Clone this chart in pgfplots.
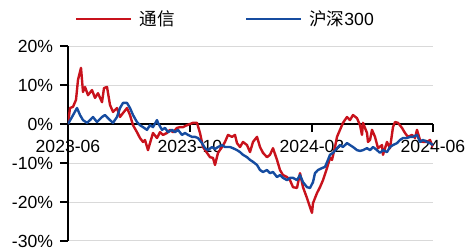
\documentclass[border=0pt]{standalone}
\usepackage{fontspec}
\setmainfont{Liberation Sans}
\newfontfamily\cjk{Noto Sans CJK SC}
\usepackage{pgfplots}
\pgfplotsset{compat=1.18}
\definecolor{cred}{RGB}{200,18,28}
\definecolor{cblue}{RGB}{22,76,160}
\definecolor{cgrid}{RGB}{217,217,217}
\begin{document}
\begin{tikzpicture}
\begin{axis}[
  name=ax,
  scale only axis,
  width=273.75pt, height=146.25pt,
  xmin=0, xmax=365, ymin=-30, ymax=20,
  axis x line*=middle, axis y line*=left,
  hide obscured x ticks=false, hide obscured y ticks=false,
  xtick={0,122,244,365},
  xticklabels={2023-06,2023-10,2024-02,2024-06},
  ytick={-30,-20,-10,0,10,20},
  yticklabels={-30\%,-20\%,-10\%,0\%,10\%,20\%},
  tick align=outside,
  major tick length=6pt,
  tick style={black, line width=0.9pt},
  axis line style={black, line width=0.9pt},
  ymajorgrids, grid style={cgrid, line width=0.75pt},
  tick label style={font=\fontsize{13.2}{15}\selectfont, inner sep=0pt},
  x tick label style={anchor=north, yshift=-6pt},
  y tick label style={anchor=east, xshift=-5pt},
  legend columns=2,
  legend style={at={(axis description cs:0,1)}, anchor=west, xshift=5.25pt, yshift=20.25pt,
    draw=none, fill=none, inner sep=0pt, font=\fontsize{13.2}{15}\selectfont,
    nodes={inner sep=0pt},
    /tikz/every odd column/.append style={column sep=5.25pt},
    /tikz/every even column/.append style={column sep=52.5pt}},
  legend image code/.code={\draw[#1, line width=1.8pt] (0pt,0pt) -- (41.25pt,0pt);},
  every axis plot/.append style={line width=1.8pt, line join=round, mark=none},
]
\addplot[cred] coordinates {
(0,0) (2,4.1) (5,4.4) (8,6.2) (10,11.3) (13,14.4) (15,8.2) (17,9.5) (20,7.4) (24,8.7)
(27,6.7) (30,7.9) (34,5.6) (36,9.2) (39,9.5) (42,4.9) (45,3.1) (49,4.1) (52,1.8) (55,2.8)
(59,4.1) (62,2.3) (65,-0.3) (69,-2.1) (72,-3.6) (75,-4.6) (77,-4.1) (80,-6.7) (82,-4.9) (85,-2.3)
(89,-3.6) (92,-2.1) (95,-2.8) (99,-2.3) (102,-1.5) (105,-2.1) (109,-1.0) (112,-0.8) (115,-0.8) (119,-0.3)
(122,0) (125,0.3) (129,0.3) (132,-2.3) (135,-5.9) (139,-7.4) (142,-8.5) (145,-8.7) (147,-10.5) (150,-7.4)
(154,-5.9) (157,-4.6) (160,-2.8) (164,-3.3) (167,-2.8) (169,-4.9) (172,-5.9) (175,-4.6) (179,-5.4) (182,-7.2)
(185,-4.6) (189,-3.3) (192,-5.9) (195,-7.4) (199,-8.5) (202,-7.9) (205,-6.2) (209,-9.2) (212,-11.8) (215,-13.1)
(219,-13.6) (222,-14.4) (225,-16.2) (229,-16.4) (232,-12.6) (235,-16.2) (239,-19.0) (242,-21.3) (244,-22.8) (245,-20.3)
(249,-17.7) (252,-16.2) (255,-14.4) (259,-11.3) (262,-8.7) (264,-9.2) (267,-5.9) (269,-3.3) (272,-1.5) (275,0.3)
(279,1.8) (282,1.0) (285,2.3) (289,1.5) (292,-0.3) (294,-2.8) (295,0.3) (299,-2.3) (300,-4.6) (302,-4.1)
(304,-1.5) (307,-3.3) (310,-6.2) (314,-5.4) (315,-7.9) (319,-4.6) (322,-6.2) (325,-0.8) (327,0.5) (330,0.3)
(334,-1.0) (337,-2.3) (340,-3.3) (344,-2.8) (347,-3.6) (349,-1.5) (352,-4.1) (355,-4.6) (359,-4.6) (362,-4.1)
(365,-6.0)
};
\addlegendentry{{\cjk 通信}}
\addplot[cblue] coordinates {
(0,0) (4,1.8) (9,4.1) (12,2.3) (15,1.0) (19,0.3) (22,1.0) (25,1.8) (29,0.5) (34,1.8)
(37,2.3) (42,1.0) (45,0.3) (49,1.8) (52,4.1) (55,5.4) (59,5.4) (62,4.1) (65,2.3) (69,0.5)
(72,-0.3) (75,-0.8) (79,-1.5) (82,-0.3) (85,-0.8) (89,1.0) (90,0.3) (94,-1.5) (97,-1.0) (100,-2.1)
(104,-1.5) (107,-2.1) (110,-1.5) (114,-2.8) (117,-2.3) (120,-2.8) (124,-3.3) (127,-3.3) (130,-3.6) (134,-4.9)
(137,-6.2) (140,-6.7) (144,-5.9) (147,-6.4) (150,-5.9) (154,-5.4) (157,-5.9) (162,-5.9) (165,-6.2) (169,-6.7)
(172,-7.2) (175,-7.9) (179,-8.5) (182,-9.2) (185,-9.7) (189,-10.5) (192,-11.8) (195,-12.3) (199,-11.8) (202,-12.6)
(205,-12.3) (209,-13.6) (212,-13.1) (215,-13.8) (219,-14.4) (222,-13.8) (225,-13.8) (229,-14.4) (232,-13.1) (235,-14.9)
(239,-16.2) (242,-16.4) (245,-14.9) (247,-12.6) (250,-11.8) (254,-11.3) (257,-11.0) (260,-9.2) (262,-7.9) (265,-7.4)
(269,-6.2) (272,-5.4) (275,-5.9) (279,-4.9) (282,-5.4) (285,-5.9) (289,-6.7) (292,-6.9) (295,-6.7) (299,-6.2)
(302,-6.7) (305,-5.9) (309,-6.7) (312,-7.4) (315,-6.7) (319,-7.2) (322,-5.9) (325,-5.4) (329,-4.9) (332,-4.1)
(335,-3.6) (339,-3.6) (342,-3.3) (345,-3.3) (349,-2.8) (352,-4.6) (355,-4.1) (359,-4.6) (362,-4.9) (365,-5.4)
};
\addlegendentry{{\cjk 沪深}300}
\end{axis}
\pgfresetboundingbox
\path[use as bounding box] ([xshift=-51pt,yshift=-4.5pt]ax.south west) rectangle ([xshift=24pt,yshift=34.5pt]ax.north east);
\end{tikzpicture}
\end{document}
